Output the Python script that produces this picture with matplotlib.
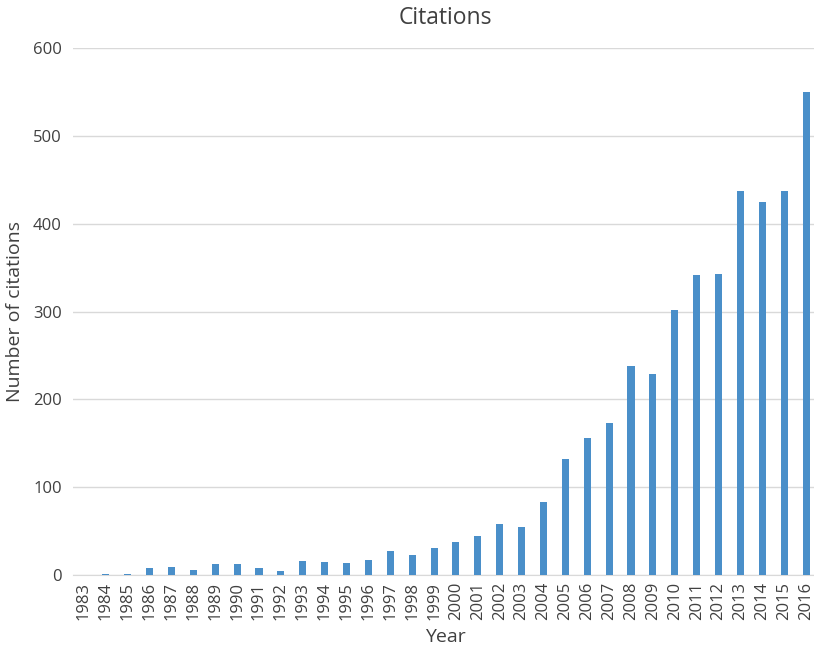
import numpy as np
import matplotlib
matplotlib.use('Agg')
import matplotlib.pyplot as plt

years = [str(y) for y in range(1983, 2017)]
citations = [0, 1, 1, 8, 9, 6, 12, 13, 8, 4,
             16, 15, 14, 17, 27, 23, 31, 38, 44, 58,
             55, 83, 132, 156, 173, 238, 229, 302, 341, 343,
             437, 425, 437, 550]
yticks = [0, 100, 200, 300, 400, 500, 600]

plt.rcParams['font.family'] = ['Open Sans', 'DejaVu Sans']
text_color = '#404040'

fig = plt.figure(figsize=(8.14, 6.48), dpi=100)
ax = fig.add_axes([73 / 814, 1 - 575 / 648, (817 - 73) / 814, (575 - 48) / 648])

x = np.arange(len(years))
ax.bar(x, citations, width=0.32, color='#4a8fc9', zorder=3)

ax.set_xlim(-0.5, len(years) - 0.5)
ax.set_ylim(0, 600)
ax.set_yticks(yticks)
ax.set_xticks(x)
ax.set_xticklabels(years, rotation=90)
ax.grid(axis='y', color='#d9d9d9', linewidth=1.0, zorder=0)
ax.tick_params(axis='both', length=0, labelsize=12, colors=text_color)
ax.tick_params(axis='x', pad=5)
ax.tick_params(axis='y', pad=8)
for side in ['top', 'right', 'left']:
    ax.spines[side].set_visible(False)
ax.spines['bottom'].set_color('#d9d9d9')

# title / axis labels placed to match the reference layout
fig.text(445 / 814, 1 - 18 / 648, 'Citations', fontsize=16.5, color=text_color,
         ha='center', va='center')
ax.set_xlabel('Year', fontsize=14, color=text_color)
ax.xaxis.set_label_coords(0.5, (575 - 628) / 527)
ax.set_ylabel('Number of citations', fontsize=14, color=text_color)
ax.yaxis.set_label_coords((24 - 73) / 744, 0.5)

plt.savefig('out.png', dpi=100)
